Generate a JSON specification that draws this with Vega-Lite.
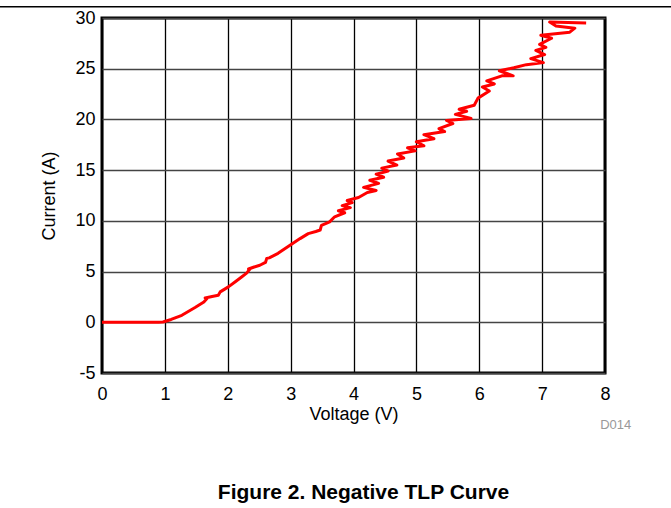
{
  "$schema": "https://vega.github.io/schema/vega-lite/v6.json",
  "width": 503,
  "height": 355,
  "autosize": {"type": "none"},
  "padding": {"left": 102, "top": 18, "right": 66, "bottom": 135},
  "background": "white",
  "config": {
    "view": {"stroke": "black", "strokeWidth": 3},
    "font": "Liberation Sans"
  },
  "title": {
    "text": "Figure 2. Negative TLP Curve",
    "orient": "bottom",
    "anchor": "middle",
    "fontSize": 21,
    "fontWeight": "bold",
    "font": "Liberation Sans",
    "color": "black",
    "offset": 50,
    "dx": 10
  },
  "layer": [
    {
      "data": {
        "values": [
          {"i": 1, "v": 0, "a": 0},
          {"i": 2, "v": 0.5, "a": 0},
          {"i": 3, "v": 0.9, "a": 0},
          {"i": 4, "v": 0.97, "a": 0.03},
          {"i": 5, "v": 1.1, "a": 0.28},
          {"i": 6, "v": 1.27, "a": 0.69},
          {"i": 7, "v": 1.48, "a": 1.45},
          {"i": 8, "v": 1.62, "a": 2.0},
          {"i": 9, "v": 1.67, "a": 2.35},
          {"i": 10, "v": 1.64, "a": 2.4},
          {"i": 11, "v": 1.75, "a": 2.55},
          {"i": 12, "v": 1.85, "a": 2.66},
          {"i": 13, "v": 1.88, "a": 3.0},
          {"i": 14, "v": 2.01, "a": 3.49},
          {"i": 15, "v": 2.12, "a": 4.0},
          {"i": 16, "v": 2.22, "a": 4.47},
          {"i": 17, "v": 2.3, "a": 4.85},
          {"i": 18, "v": 2.36, "a": 5.3},
          {"i": 19, "v": 2.33, "a": 5.25},
          {"i": 20, "v": 2.42, "a": 5.45},
          {"i": 21, "v": 2.51, "a": 5.62},
          {"i": 22, "v": 2.6, "a": 5.9},
          {"i": 23, "v": 2.62, "a": 6.3},
          {"i": 24, "v": 2.66, "a": 6.35},
          {"i": 25, "v": 2.8, "a": 6.8},
          {"i": 26, "v": 2.99, "a": 7.6},
          {"i": 27, "v": 3.15, "a": 8.25},
          {"i": 28, "v": 3.28, "a": 8.74},
          {"i": 29, "v": 3.4, "a": 8.95},
          {"i": 30, "v": 3.47, "a": 9.1},
          {"i": 31, "v": 3.49, "a": 9.55},
          {"i": 32, "v": 3.62, "a": 9.9},
          {"i": 33, "v": 3.7, "a": 10.4},
          {"i": 34, "v": 3.86, "a": 10.8},
          {"i": 35, "v": 3.76, "a": 11.0},
          {"i": 36, "v": 3.95, "a": 11.3},
          {"i": 37, "v": 3.82, "a": 11.5},
          {"i": 38, "v": 3.98, "a": 11.8},
          {"i": 39, "v": 3.9, "a": 12.0},
          {"i": 40, "v": 4.08, "a": 12.3},
          {"i": 41, "v": 4.22, "a": 12.8},
          {"i": 42, "v": 4.36, "a": 13.0},
          {"i": 43, "v": 4.16, "a": 13.3},
          {"i": 44, "v": 4.4, "a": 13.7},
          {"i": 45, "v": 4.26, "a": 14.0},
          {"i": 46, "v": 4.48, "a": 14.3},
          {"i": 47, "v": 4.36, "a": 14.6},
          {"i": 48, "v": 4.55, "a": 14.9},
          {"i": 49, "v": 4.45, "a": 15.2},
          {"i": 50, "v": 4.69, "a": 15.5},
          {"i": 51, "v": 4.55, "a": 15.9},
          {"i": 52, "v": 4.8, "a": 16.2},
          {"i": 53, "v": 4.7, "a": 16.6},
          {"i": 54, "v": 4.98, "a": 16.9},
          {"i": 55, "v": 4.86, "a": 17.2},
          {"i": 56, "v": 5.12, "a": 17.4},
          {"i": 57, "v": 5.0, "a": 17.8},
          {"i": 58, "v": 5.28, "a": 18.1},
          {"i": 59, "v": 5.12, "a": 18.5},
          {"i": 60, "v": 5.45, "a": 18.8},
          {"i": 61, "v": 5.36, "a": 19.1},
          {"i": 62, "v": 5.58, "a": 19.6},
          {"i": 63, "v": 5.48, "a": 19.9},
          {"i": 64, "v": 5.87, "a": 20.1},
          {"i": 65, "v": 5.62, "a": 20.5},
          {"i": 66, "v": 5.8, "a": 20.8},
          {"i": 67, "v": 5.68, "a": 21.0},
          {"i": 68, "v": 5.92, "a": 21.4},
          {"i": 69, "v": 5.98, "a": 22.1},
          {"i": 70, "v": 6.16, "a": 22.8},
          {"i": 71, "v": 6.05, "a": 23.2},
          {"i": 72, "v": 6.24, "a": 23.5},
          {"i": 73, "v": 6.12, "a": 23.8},
          {"i": 74, "v": 6.36, "a": 24.3},
          {"i": 75, "v": 6.54, "a": 24.3},
          {"i": 76, "v": 6.32, "a": 24.8},
          {"i": 77, "v": 6.55, "a": 25.1},
          {"i": 78, "v": 6.75, "a": 25.4},
          {"i": 79, "v": 7.02, "a": 25.6},
          {"i": 80, "v": 6.82, "a": 26.0},
          {"i": 81, "v": 7.04, "a": 26.4},
          {"i": 82, "v": 6.9, "a": 26.8},
          {"i": 83, "v": 7.06, "a": 27.1},
          {"i": 84, "v": 6.96, "a": 27.4},
          {"i": 85, "v": 7.15, "a": 28.0},
          {"i": 86, "v": 6.98, "a": 28.3},
          {"i": 87, "v": 7.44, "a": 28.6},
          {"i": 88, "v": 7.52, "a": 29.0},
          {"i": 89, "v": 7.22, "a": 29.2},
          {"i": 90, "v": 7.12, "a": 29.6},
          {"i": 91, "v": 7.7, "a": 29.5}
        ]
      },
      "mark": {"type": "line", "color": "#ff0000", "strokeWidth": 3, "strokeJoin": "round"},
      "encoding": {
        "x": {
          "field": "v",
          "type": "quantitative",
          "scale": {"domain": [0, 8], "nice": false, "zero": false},
          "axis": {
            "title": "Voltage (V)",
            "values": [0, 0.5, 1, 1.5, 2, 2.5, 3, 3.5, 4, 4.5, 5, 5.5, 6, 6.5, 7, 7.5, 8],
            "labelExpr": "datum.value % 1 === 0 ? '' + datum.value : ''",
            "domain": false,
            "ticks": false,
            "tickSize": 0,
            "labelFontSize": 18,
            "labelColor": "black",
            "labelPadding": 12,
            "labelFlush": false,
            "labelOverlap": false,
            "titleFontSize": 18,
            "titleFontWeight": "normal",
            "titleColor": "black",
            "titlePadding": 2,
            "grid": true,
            "gridColor": {"condition": {"test": "datum.value % 1 === 0", "value": "#000000"}, "value": "#777777"},
            "gridWidth": 1.3,
            "gridOpacity": 1
          }
        },
        "y": {
          "field": "a",
          "type": "quantitative",
          "scale": {"domain": [-5, 30], "nice": false, "zero": false},
          "axis": {
            "title": "Current (A)",
            "values": [-5, 0, 5, 10, 15, 20, 25, 30],
            "labelExpr": "'' + datum.value",
            "domain": false,
            "ticks": false,
            "tickSize": 0,
            "labelFontSize": 18,
            "labelColor": "black",
            "labelPadding": 7,
            "labelFlush": false,
            "labelOverlap": false,
            "titleFontSize": 18,
            "titleFontWeight": "normal",
            "titleColor": "black",
            "titlePadding": 16,
            "grid": true,
            "gridColor": "#444444",
            "gridWidth": 1.3,
            "gridOpacity": 1
          }
        },
        "order": {"field": "i", "type": "quantitative"}
      }
    },
    {
      "data": {"values": [{}]},
      "mark": {"type": "rule", "color": "black", "strokeWidth": 1.5},
      "encoding": {
        "x": {"datum": -1.63, "type": "quantitative", "scale": {"domain": [0, 8], "nice": false, "zero": false}},
        "x2": {"datum": 9.06},
        "y": {"datum": 31.1, "type": "quantitative", "scale": {"domain": [-5, 30], "nice": false, "zero": false}}
      }
    },
    {
      "data": {"values": [{}]},
      "mark": {"type": "text", "color": "#999999", "fontSize": 13, "align": "center", "baseline": "alphabetic", "font": "Liberation Sans"},
      "encoding": {
        "x": {"datum": 8.17, "type": "quantitative", "scale": {"domain": [0, 8], "nice": false, "zero": false}},
        "y": {"datum": -10.55, "type": "quantitative", "scale": {"domain": [-5, 30], "nice": false, "zero": false}},
        "text": {"value": "D014"}
      }
    }
  ]
}
